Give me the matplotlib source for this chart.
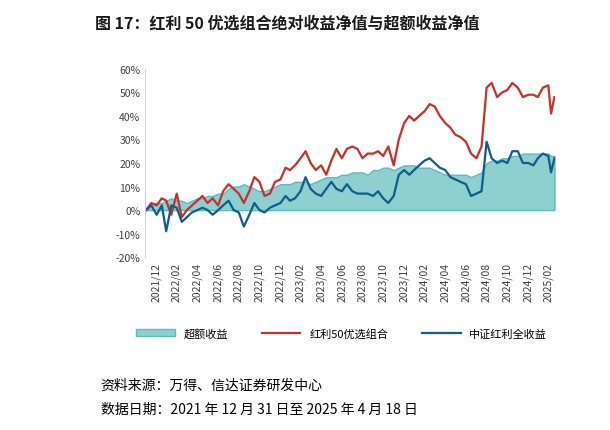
import matplotlib.pyplot as plt
import matplotlib.patches as mpatches
from matplotlib.lines import Line2D
import pandas as pd

plt.rcParams["font.family"] = ["Noto Sans CJK SC", "DejaVu Sans"]

# half-monthly observations, % returns
red = [0,
       3, 2, 5, 4, -2, 7, -3, 0, 2, 4, 6, 3, 5, 2, 8, 11, 9, 7, 3, 8, 14, 12, 6, 7,
       12, 13, 18, 17, 19, 22, 25, 20, 17, 19, 15, 21, 26, 22, 26, 27, 26, 22, 24, 24, 25, 23, 27, 19,
       30, 37, 40, 38, 40, 42, 45, 44, 40, 37, 35, 32, 31, 29, 24, 22, 27, 52, 54, 48, 50, 51, 54, 52,
       48, 49, 49, 48, 52, 53,
       41, 48]
blue = [0,
        2, -2, 2, -9, 2, 1, -5, -3, -1, 0, 1, 0, -2, 0, 2, 4, 0, -1, -7, -2, 3, 0, -1, 1,
        2, 3, 6, 4, 5, 8, 14, 9, 7, 6, 9, 12, 9, 8, 11, 8, 7, 7, 7, 6, 8, 5, 3, 6,
        15, 17, 15, 17, 19, 21, 22, 20, 18, 17, 14, 13, 12, 11, 6, 7, 8, 29, 22, 20, 21, 20, 25, 25,
        20, 20, 19, 22, 24, 23,
        16, 22]
excess = [0,
          3, 3, 3, 4, 5, 4, 4, 3, 4, 5, 5, 6, 6, 7, 7, 9, 10, 10, 11, 10, 9, 8, 8, 9,
          10, 11, 11, 11, 12, 12, 12, 11, 12, 13, 14, 14, 14, 15, 15, 16, 16, 16, 15, 17, 17, 18, 18, 17,
          18, 19, 19, 19, 18, 18, 18, 17, 16, 15, 15, 15, 15, 15, 14, 15, 16, 20, 21, 21, 22, 22, 23, 23,
          24, 24, 24, 24, 24, 24,
          23, 23]

dates = [pd.Timestamp("2021-12-31")]
for m in pd.period_range("2022-01", "2025-03", freq="M"):
    dates.append(pd.Timestamp(m.year, m.month, 15))
    dates.append(m.end_time.normalize())
dates += [pd.Timestamp("2025-04-08"), pd.Timestamp("2025-04-18")]

tick_months = pd.period_range("2021-12", "2025-02", freq="2M")
tick_pos = [m.end_time.normalize() for m in tick_months]
tick_labels = [m.strftime("%Y/%m") for m in tick_months]

fig = plt.figure(figsize=(6.1, 4.31), dpi=100)
ax = fig.add_axes([0.238, 0.401, 0.672, 0.437])

ax.fill_between(dates, excess, 0, color="#8ecfcf", edgecolor="#5bbcbc", lw=1)
ax.plot(dates, red, color="#c8302c", lw=1.6)
ax.plot(dates, blue, color="#0e5e8c", lw=1.6)
ax.axhline(0, color="#d0d0d0", lw=0.8, zorder=0)

ax.set_ylim(-20, 60)
ax.set_yticks(range(-20, 61, 10))
ax.set_yticklabels([f"{v}%" for v in range(-20, 61, 10)], fontsize=7.5, color="#404040")
ax.set_xlim(pd.Timestamp("2021-12-28"), pd.Timestamp("2025-04-20"))
ax.set_xticks(tick_pos)
ax.set_xticklabels(tick_labels)
ax.tick_params(axis="x", rotation=90, labelsize=7.5, colors="#404040", length=0)
ax.tick_params(axis="y", length=0)
for s in ["top", "right", "bottom"]:
    ax.spines[s].set_visible(False)
ax.spines["left"].set_color("#d0d0d0")

handles = [mpatches.Patch(facecolor="#8ecfcf", edgecolor="#5bbcbc", label="超额收益"),
           Line2D([], [], color="#c8302c", lw=1.6, label="红利50优选组合"),
           Line2D([], [], color="#0e5e8c", lw=1.6, label="中证红利全收益")]
fig.legend(handles=handles, loc="center", bbox_to_anchor=(0.56, 0.225), ncol=3,
           frameon=False, fontsize=8, columnspacing=3, handlelength=3.5)

fig.text(0.155, 0.945, "图 17：红利 50 优选组合绝对收益净值与超额收益净值",
         fontsize=11.5, fontweight="bold", color="#1a1a1a", va="center")
fig.text(0.165, 0.105, "资料来源：万得、信达证券研发中心", fontsize=10, style="italic", va="center")
fig.text(0.165, 0.05, "数据日期：2021 年 12 月 31 日至 2025 年 4 月 18 日", fontsize=10,
         style="italic", va="center")

fig.savefig("out.png", dpi=100)
